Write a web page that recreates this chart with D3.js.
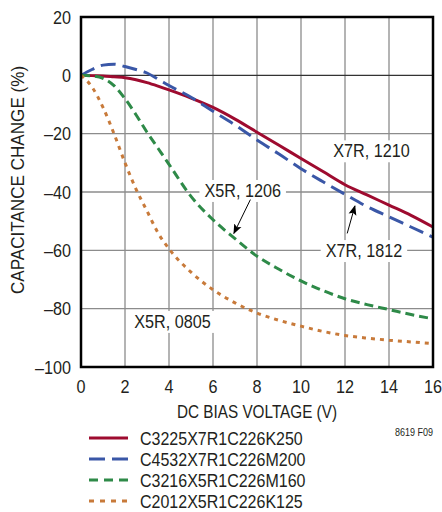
<!DOCTYPE html>
<html>
<head>
<meta charset="utf-8">
<script src="https://cdn.jsdelivr.net/npm/d3@7"></script>
<style>
  body { margin: 0; background: #fff; }
  text { font-family: "Liberation Sans", Arial, sans-serif; fill: #231f20; }
</style>
</head>
<body>
<svg id="chart"></svg>
<script>
// voltage points (V)
var volts = [0, 0.5, 1, 1.5, 2, 2.5, 3, 3.5, 4, 5, 6, 7, 8, 9, 10, 11, 12, 13, 14, 15, 16];

// capacitance change (%) per part
var x7r1210 = [0, -0.1, -0.2, -0.5, -0.8, -1.5, -2.5, -3.7, -5, -7.8, -11, -15, -19.5, -24, -28.5, -33, -37.5, -41, -44.5, -48, -52];
var x7r1812 = [0, 2, 3.5, 3.8, 3, 2, 0.8, -1.3, -3.5, -7.5, -12.3, -17, -22.2, -27, -32, -36.5, -40.8, -45, -48.5, -52, -55.5];
var x5r1206 = [0, -0.2, -1, -3.5, -8, -13.5, -19.5, -25, -30.5, -41.5, -49.5, -56, -62, -66.5, -70.5, -73.8, -76.6, -78.6, -80.3, -82, -83.5];
var x5r0805 = [0, -4, -11, -20, -30, -39, -46.5, -54, -59.5, -67.5, -73.5, -78, -81.5, -84, -86, -87.8, -89.2, -90.1, -90.8, -91.4, -92];

var seriesNames = ["C3225X7R1C226K250", "C4532X7R1C226M200", "C3216X5R1C226M160", "C2012X5R1C226K125"];
var seriesData = [x7r1210, x7r1812, x5r1206, x5r0805];
var colors = ["#9e0b2f", "#3a57a7", "#2e8a48", "#c87a3a"];
var dashes = ["none", "15 7", "9 5", "4 5"];
var legendDashes = ["none", "16 7", "9 6", "5 6"];

var xTicks = [0, 2, 4, 6, 8, 10, 12, 14, 16];
var yTicks = [20, 0, -20, -40, -60, -80, -100];

// annotations: label text, label pos (V, %), optional arrow from -> to
var notes = [
  { text: "X7R, 1210", x: 13.2, y: -25.8 },
  { text: "X5R, 1206", x: 7.35, y: -39.4, arrow: [[7.7, -42.6], [6.95, -54.2]] },
  { text: "X7R, 1812", x: 12.86, y: -60, arrow: [[12.1, -54.2], [12.45, -44.8]] },
  { text: "X5R, 0805", x: 4.16, y: -84.3 }
];

var width = 442, height = 512;
var svg = d3.select("#chart").attr("width", width).attr("height", height);

var x = d3.scaleLinear().domain([0, 16]).range([81, 433]);
var y = d3.scaleLinear().domain([-100, 20]).range([367, 17]);

// narrow type, like the condensed face of the original
function label(parent, px, py, str, size, anchor, sx, rot) {
  return parent.append("text")
    .attr("transform", "translate(" + px + "," + py + ")" + (rot ? " rotate(" + rot + ")" : "") + " scale(" + sx + ",1)")
    .attr("text-anchor", anchor)
    .attr("font-size", size)
    .text(str);
}

// arrow head
svg.append("defs").append("marker")
  .attr("id", "head")
  .attr("viewBox", "0 0 10 10")
  .attr("refX", 9).attr("refY", 5)
  .attr("markerWidth", 10).attr("markerHeight", 10)
  .attr("markerUnits", "userSpaceOnUse")
  .attr("orient", "auto")
  .append("path").attr("d", "M0,1 L10,5 L0,9 L2,5 Z").attr("fill", "#000");

// grid
var grid = svg.append("g");
grid.selectAll(".vg").data(xTicks).enter().append("line")
  .attr("x1", d => x(d)).attr("x2", d => x(d))
  .attr("y1", y(20)).attr("y2", y(-100))
  .attr("stroke", "#8c8c8c").attr("stroke-width", 1.3);
grid.selectAll(".hg").data(yTicks).enter().append("line")
  .attr("x1", x(0)).attr("x2", x(16))
  .attr("y1", d => y(d)).attr("y2", d => y(d))
  .attr("stroke", d => d === 0 ? "#333" : "#8c8c8c").attr("stroke-width", 1.3);

// label backgrounds (knock out the grid)
var noteG = svg.append("g");
notes.forEach(function(n) {
  var t = label(noteG, x(n.x), y(n.y) + 6.5, n.text, 18, "middle", 0.9);
  var bb = t.node().getBBox();
  var w = bb.width * 0.9;
  noteG.insert("rect", "text")
    .attr("x", x(n.x) - w / 2 - 5).attr("y", y(n.y) + 6.5 + bb.y - 1)
    .attr("width", w + 10).attr("height", bb.height + 2)
    .attr("fill", "#fff");
});

// curves
var line = d3.line()
  .x((d, i) => x(volts[i]))
  .y(d => y(d))
  .curve(d3.curveMonotoneX);

svg.append("g").selectAll("path").data(seriesData).enter().append("path")
  .attr("d", line)
  .attr("fill", "none")
  .attr("stroke", (d, i) => colors[i])
  .attr("stroke-width", 3)
  .attr("stroke-dasharray", (d, i) => dashes[i]);

// arrows
notes.filter(n => n.arrow).forEach(function(n) {
  svg.append("line")
    .attr("x1", x(n.arrow[0][0])).attr("y1", y(n.arrow[0][1]))
    .attr("x2", x(n.arrow[1][0])).attr("y2", y(n.arrow[1][1]))
    .attr("stroke", "#000").attr("stroke-width", 1)
    .attr("marker-end", "url(#head)");
});

// frame
svg.append("rect")
  .attr("x", x(0)).attr("y", y(20))
  .attr("width", x(16) - x(0)).attr("height", y(-100) - y(20))
  .attr("fill", "none").attr("stroke", "#000").attr("stroke-width", 2.5);

// tick labels
var xl = svg.append("g");
xTicks.forEach(d => label(xl, x(d), 393, d, 18, "middle", 0.9));
var yl = svg.append("g");
yTicks.forEach(d => label(yl, 71, y(d) + 6.5, d < 0 ? "\u2013" + Math.abs(d) : d, 18, "end", 0.9));

// axis titles
label(svg, 257, 418, "DC BIAS VOLTAGE (V)", 18, "middle", 0.85);
label(svg, 24, 180, "CAPACITANCE CHANGE (%)", 18, "middle", 0.95, -90);

label(svg, 433, 436, "8619 F09", 10, "end", 0.9);

// legend
var legend = svg.append("g").selectAll("g").data(seriesNames).enter().append("g")
  .attr("transform", (d, i) => "translate(89," + (438 + i * 21) + ")");
legend.append("line")
  .attr("x1", 0).attr("x2", 39)
  .attr("stroke", (d, i) => colors[i])
  .attr("stroke-width", 3)
  .attr("stroke-dasharray", (d, i) => legendDashes[i]);
legend.each(function(d) { label(d3.select(this), 51, 7, d, 18, "start", 0.89); });
</script>
</body>
</html>
